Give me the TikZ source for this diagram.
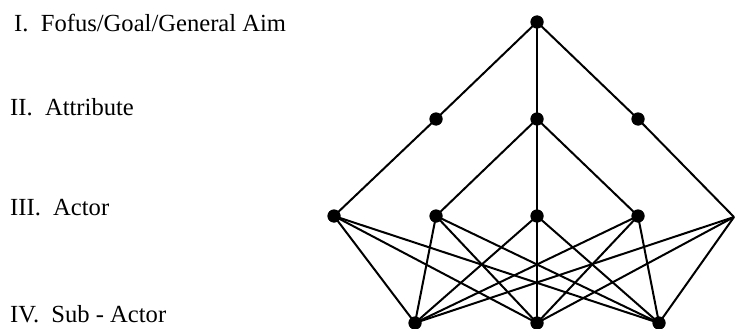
\documentclass[tikz,border=0pt]{standalone}
\usepackage{fontspec}
\setmainfont{Liberation Serif}
\begin{document}
\begin{tikzpicture}[x=1pt,y=-1pt,
  dot/.style={circle,fill=black,inner sep=0pt,minimum size=13pt},
  lvl/.style={anchor=base west,inner sep=0pt,font=\fontsize{24.6}{28}\selectfont},
  edge/.style={line width=2pt}]
\useasboundingbox (0,0) rectangle (736,329);
% labels
\node[lvl] (l1) at (14,32) {I.\ \ Fofus/Goal/General Aim};
\node[lvl] (l2) at (10,115) {II.\ \ Attribute};
\node[lvl] (l3) at (10,215) {III.\ \ Actor};
\node[lvl] (l4) at (10,322) {IV.\ \ Sub - Actor};
% nodes
\node[dot] (t) at (537,22) {};
\node[dot] (a1) at (436,119) {};
\node[dot] (a2) at (537,119) {};
\node[dot] (a3) at (638,119) {};
\node[dot] (c1) at (334,216) {};
\node[dot] (c2) at (436,216) {};
\node[dot] (c3) at (537,216) {};
\node[dot] (c4) at (638,216) {};
\coordinate (c5) at (734,217);
\node[dot] (s1) at (415,323) {};
\node[dot] (s2) at (537,323) {};
\node[dot] (s3) at (659,323) {};
% edges
\begin{scope}[on background layer/.style={}]
\foreach \a in {a1,a2,a3} \draw[edge] (t.center) -- (\a.center);
\draw[edge] (a1.center) -- (c1.center);
\foreach \c in {c2,c3,c4} \draw[edge] (a2.center) -- (\c.center);
\draw[edge] (a3.center) -- (c5);
\foreach \c in {c1,c2,c3,c4}
  \foreach \s in {s1,s2,s3}
    \draw[edge] (\c.center) -- (\s.center);
\foreach \s in {s1,s2,s3} \draw[edge] (c5) -- (\s.center);
\end{scope}
% dots on top of the lines
\foreach \n in {t,a1,a2,a3,c1,c2,c3,c4,s1,s2,s3}
  \fill (\n.center) circle (6.5pt);
\end{tikzpicture}
\end{document}
